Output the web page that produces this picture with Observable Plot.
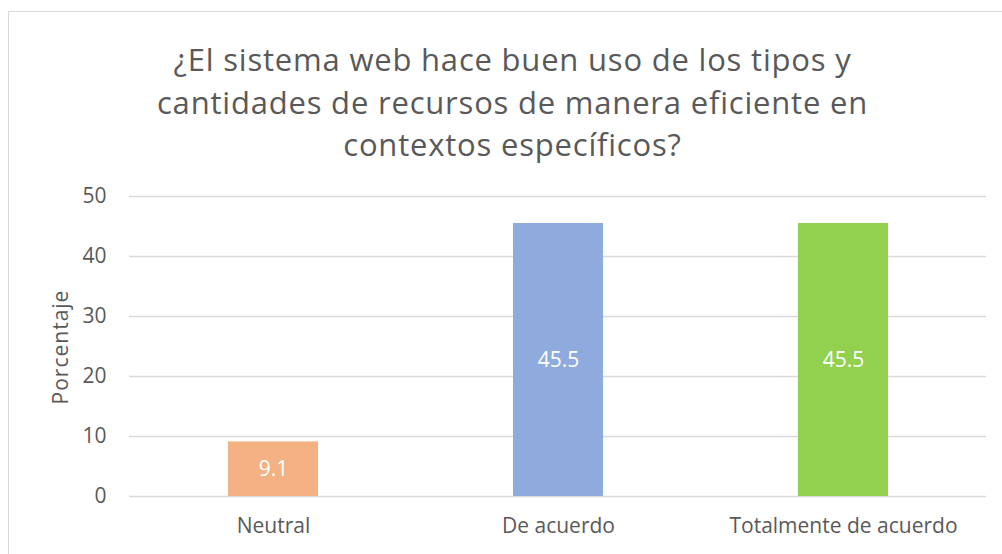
<!DOCTYPE html>
<html>
<head>
<meta charset="utf-8">
<script src="https://cdn.jsdelivr.net/npm/d3@7"></script>
<script src="https://cdn.jsdelivr.net/npm/@observablehq/plot@0.6"></script>
<style>
  html, body { margin: 0; padding: 0; background: #fff; overflow: hidden; }
  #wrap { position: relative; width: 1002px; height: 554px; font-family: "Open Sans", sans-serif; color: #595959; }
  #frame { position: absolute; left: 8px; top: 11px; width: 1100px; height: 600px; border: 1px solid #d9d9d9; box-sizing: border-box; }
  #title { position: absolute; left: 0; top: 38px; width: 1025px; text-align: center; font-size: 31px; line-height: 42.5px; letter-spacing: 0.8px; color: #595959; }
  #ylabel { position: absolute; left: 60px; top: 347px; transform: translate(-50%, -50%) rotate(-90deg); font-size: 21px; letter-spacing: 1px; white-space: nowrap; color: #595959; }
  #chart { position: absolute; left: 0; top: 0; }
</style>
</head>
<body>
<div id="wrap">
  <div id="frame"></div>
  <div id="chart"></div>
  <div id="title">¿El sistema web hace buen uso de los tipos y<br>cantidades de recursos de manera eficiente en<br>contextos específicos?</div>
  <div id="ylabel">Porcentaje</div>
</div>
<script>
const categories = ["Neutral", "De acuerdo", "Totalmente de acuerdo"];
const values = [9.1, 45.5, 45.5];
const colors = ["#F4B183", "#8FAADC", "#92D050"];
const yTicks = [0, 10, 20, 30, 40, 50];

const data = categories.map((c, i) => ({category: c, value: values[i], color: colors[i]}));

const chart = Plot.plot({
  width: 1002,
  height: 554,
  marginTop: 196,
  marginBottom: 58,
  marginLeft: 129,
  marginRight: 16,
  style: {fontFamily: "Open Sans, sans-serif", fontSize: "21px", color: "#595959", background: "transparent"},
  x: {domain: categories, paddingInner: 0.685, paddingOuter: 0.3425, label: null},
  y: {domain: [0, 50], label: null},
  marks: [
    Plot.gridY(yTicks, {stroke: "#d9d9d9", strokeOpacity: 1, strokeWidth: 1.5}),
    Plot.barY(data, {x: "category", y: "value", fill: "color"}),
    Plot.text(data, {x: "category", y: d => d.value / 2, text: d => d.value.toFixed(1), fill: "white", fontSize: 21}),
    Plot.axisY(yTicks, {tickSize: 0, tickPadding: 23, fontSize: 21, fill: "#595959", label: null}),
    Plot.axisX({tickSize: 0, tickPadding: 22, fontSize: 21, fill: "#595959", label: null})
  ]
});
document.getElementById("chart").appendChild(chart);
</script>
</body>
</html>
